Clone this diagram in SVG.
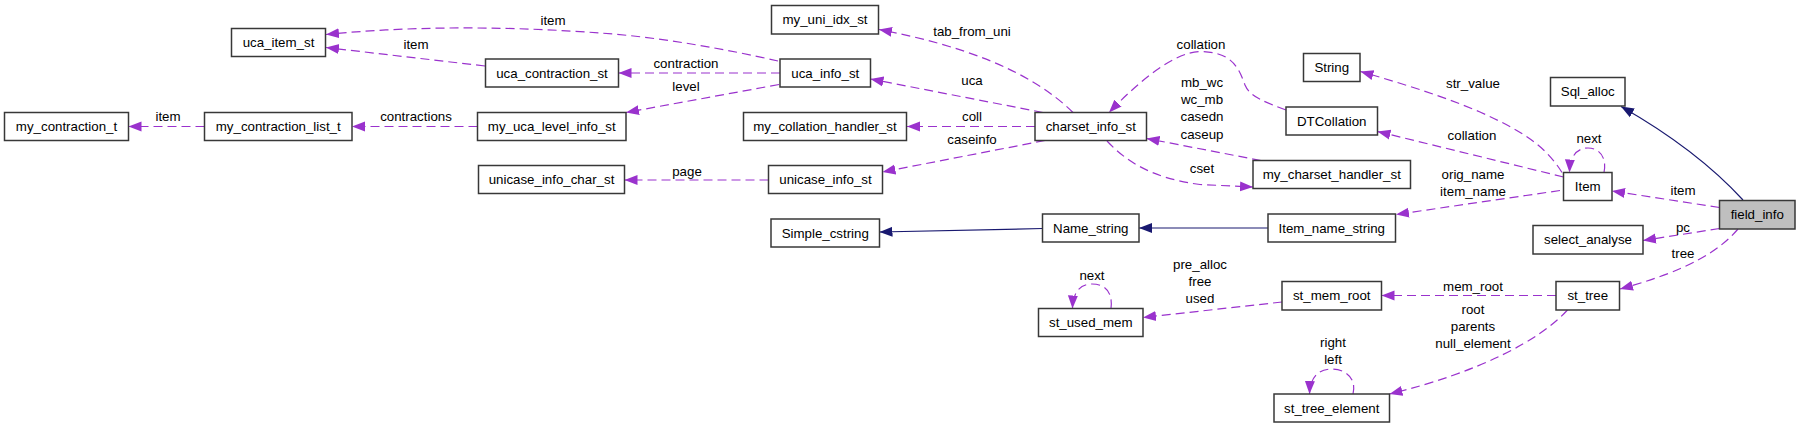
<svg xmlns="http://www.w3.org/2000/svg" width="1800" height="428" viewBox="0 0 1800 428">
<style>
  .n rect { fill: #ffffff; stroke: #383838; stroke-width: 1.5; }
  .n text, .lbl text { font-family: "Liberation Sans", Arial, sans-serif; font-size: 13.3px; fill: #000000; text-anchor: middle; }
  .u { fill: none; stroke: #9a32cd; stroke-width: 1.2; stroke-dasharray: 9,5; marker-end: url(#ap); }
  .h { fill: none; stroke: #191970; stroke-width: 1.2; marker-end: url(#ah); }
</style>
<defs>
  <marker id="ap" markerUnits="userSpaceOnUse" markerWidth="14" markerHeight="12" refX="13" refY="5.5" orient="auto">
    <path d="M0,0.5 L13,5.5 L0,10.5 z" fill="#9a32cd" stroke="none"/>
  </marker>
  <marker id="ah" markerUnits="userSpaceOnUse" markerWidth="14" markerHeight="12" refX="13" refY="5.5" orient="auto">
    <path d="M0,0.5 L13,5.5 L0,10.5 z" fill="#191970" stroke="none"/>
  </marker>
</defs>
<rect width="1800" height="428" fill="#ffffff"/>

<g id="connectors">
  <path class="u" d="M778,61 C730,50 660,37 600,33 C520,27 420,25 326,34.5"/>
  <path class="u" d="M485,66 L326,47.5"/>
  <path class="u" d="M204.5,126.5 L128.5,126.5"/>
  <path class="u" d="M477.5,126.5 L352,126.5"/>
  <path class="u" d="M780,73 L618.5,73"/>
  <path class="u" d="M779,84.5 L626,112.5"/>
  <path class="u" d="M1043,112.5 L870.5,79"/>
  <path class="u" d="M1073,112.5 C1030,70 960,45 879,29.5"/>
  <path class="u" d="M1035,126.5 L907,126.5"/>
  <path class="u" d="M1045,140.5 L882.5,172"/>
  <path class="u" d="M768.5,180 L624.5,180"/>
  <path class="u" d="M1286,110 C1265,102 1250,97 1245,85 C1238,65 1230,52 1200,51.5 C1175,52 1140,80 1109,112.5"/>
  <path class="u" d="M1261,160.5 L1146.5,138.5"/>
  <path class="u" d="M1107,141 C1125,160 1150,178 1200,184.5 L1253,187"/>
  <path class="u" d="M1562,172.5 C1545,145 1520,130 1480,112 C1440,95 1400,83 1360.5,71.5"/>
  <path class="u" d="M1563.5,177 L1377.5,131.5"/>
  <path class="u" d="M1604,172.5 C1607,158 1600,148 1588,148 C1577,148 1570,156 1569.5,172.5"/>
  <path class="u" d="M1719.5,207.5 L1612,191"/>
  <path class="h" d="M1743,200 C1720,175 1680,140 1621,106.5"/>
  <path class="u" d="M1560,190.5 L1396,214.5"/>
  <path class="h" d="M1268,228 L1139,228"/>
  <path class="h" d="M1042.5,228.5 L879.5,232"/>
  <path class="u" d="M1111,308.5 C1113,292 1105,284 1092,284 C1080,284 1073,292 1072.5,308.5"/>
  <path class="u" d="M1282,302 L1143,317.5"/>
  <path class="u" d="M1719.5,228.5 L1643,240.5"/>
  <path class="u" d="M1738,229 C1720,250 1690,270 1620,289"/>
  <path class="u" d="M1556,295.5 L1381.5,295.5"/>
  <path class="u" d="M1567.5,310 C1540,340 1480,372 1389.5,394"/>
  <path class="u" d="M1353,394 C1357,378 1345,369 1332,369 C1318,369 1310,378 1309.5,394"/>
  <g class="lbl">
    <text x="553" y="24.5">item</text>
    <text x="416" y="49">item</text>
    <text x="168" y="121">item</text>
    <text x="416" y="121">contractions</text>
    <text x="686" y="68">contraction</text>
    <text x="686" y="91">level</text>
    <text x="972" y="85">uca</text>
    <text x="972" y="36">tab_from_uni</text>
    <text x="972" y="121">coll</text>
    <text x="972" y="144">caseinfo</text>
    <text x="687" y="176">page</text>
    <text x="1201" y="49">collation</text>
    <text x="1202" y="87">mb_wc</text>
    <text x="1202" y="104">wc_mb</text>
    <text x="1202" y="121">casedn</text>
    <text x="1202" y="139">caseup</text>
    <text x="1202" y="173">cset</text>
    <text x="1473" y="88">str_value</text>
    <text x="1472" y="139.5">collation</text>
    <text x="1589" y="143">next</text>
    <text x="1683" y="195">item</text>
    <text x="1473" y="178.5">orig_name</text>
    <text x="1473" y="196">item_name</text>
    <text x="1092" y="279.5">next</text>
    <text x="1200" y="268.5">pre_alloc</text>
    <text x="1200" y="285.5">free</text>
    <text x="1200" y="303">used</text>
    <text x="1683" y="232">pc</text>
    <text x="1683" y="257.5">tree</text>
    <text x="1473" y="291">mem_root</text>
    <text x="1473" y="313.5">root</text>
    <text x="1473" y="331">parents</text>
    <text x="1473" y="348">null_element</text>
    <text x="1333" y="347">right</text>
    <text x="1333" y="364">left</text>
  </g>
</g>

<g id="uca_item_st" class="n"><rect x="231.5" y="28.5" width="94" height="28"/><text x="278.5" y="47">uca_item_st</text></g>
<g id="uca_contraction_st" class="n"><rect x="485.5" y="59" width="133" height="28"/><text x="552" y="77.5">uca_contraction_st</text></g>
<g id="my_contraction_t" class="n"><rect x="4.5" y="112.5" width="124" height="28"/><text x="66.5" y="131">my_contraction_t</text></g>
<g id="my_contraction_list_t" class="n"><rect x="204.5" y="112.5" width="147.5" height="28"/><text x="278.25" y="131">my_contraction_list_t</text></g>
<g id="my_uca_level_info_st" class="n"><rect x="477.5" y="112.5" width="148.5" height="28"/><text x="551.75" y="131">my_uca_level_info_st</text></g>
<g id="unicase_info_char_st" class="n"><rect x="478.5" y="165.5" width="146" height="28"/><text x="551.5" y="184">unicase_info_char_st</text></g>
<g id="my_uni_idx_st" class="n"><rect x="771.5" y="5.5" width="107" height="28.5"/><text x="825" y="24">my_uni_idx_st</text></g>
<g id="uca_info_st" class="n"><rect x="780" y="59" width="90.5" height="28"/><text x="825.25" y="77.5">uca_info_st</text></g>
<g id="my_collation_handler_st" class="n"><rect x="743.5" y="112.5" width="163" height="28"/><text x="825" y="131">my_collation_handler_st</text></g>
<g id="unicase_info_st" class="n"><rect x="768.5" y="165.5" width="114" height="28"/><text x="825.5" y="184">unicase_info_st</text></g>
<g id="charset_info_st" class="n"><rect x="1035" y="112.5" width="111.5" height="28"/><text x="1090.75" y="131">charset_info_st</text></g>
<g id="String" class="n"><rect x="1303.5" y="53.5" width="56.5" height="28"/><text x="1331.75" y="72">String</text></g>
<g id="DTCollation" class="n"><rect x="1286" y="107" width="91.5" height="28"/><text x="1331.75" y="125.5">DTCollation</text></g>
<g id="my_charset_handler_st" class="n"><rect x="1253" y="160.5" width="157.5" height="28"/><text x="1331.75" y="179">my_charset_handler_st</text></g>
<g id="Sql_alloc" class="n"><rect x="1550.5" y="77.5" width="74.5" height="28.5"/><text x="1587.75" y="96">Sql_alloc</text></g>
<g id="Item" class="n"><rect x="1563.5" y="172.5" width="48.5" height="28"/><text x="1587.75" y="191">Item</text></g>
<g id="field_info" class="n"><rect x="1719.5" y="200.5" width="75.5" height="28.5" style="fill:#bfbfbf"/><text x="1757.25" y="219">field_info</text></g>
<g id="Simple_cstring" class="n"><rect x="771" y="219" width="108.5" height="28"/><text x="825.25" y="237.5">Simple_cstring</text></g>
<g id="Name_string" class="n"><rect x="1042.5" y="214" width="96.5" height="28"/><text x="1090.75" y="232.5">Name_string</text></g>
<g id="Item_name_string" class="n"><rect x="1268" y="214" width="127.5" height="28"/><text x="1331.75" y="232.5">Item_name_string</text></g>
<g id="select_analyse" class="n"><rect x="1533" y="225.5" width="110" height="28.5"/><text x="1588" y="244">select_analyse</text></g>
<g id="st_used_mem" class="n"><rect x="1038.5" y="308.5" width="104.5" height="28"/><text x="1090.75" y="327">st_used_mem</text></g>
<g id="st_mem_root" class="n"><rect x="1282" y="281.5" width="99.5" height="28.5"/><text x="1331.75" y="300">st_mem_root</text></g>
<g id="st_tree" class="n"><rect x="1556" y="281.5" width="63.5" height="28.5"/><text x="1587.75" y="300">st_tree</text></g>
<g id="st_tree_element" class="n"><rect x="1274" y="394" width="115.5" height="28"/><text x="1331.75" y="412.5">st_tree_element</text></g>
</svg>
